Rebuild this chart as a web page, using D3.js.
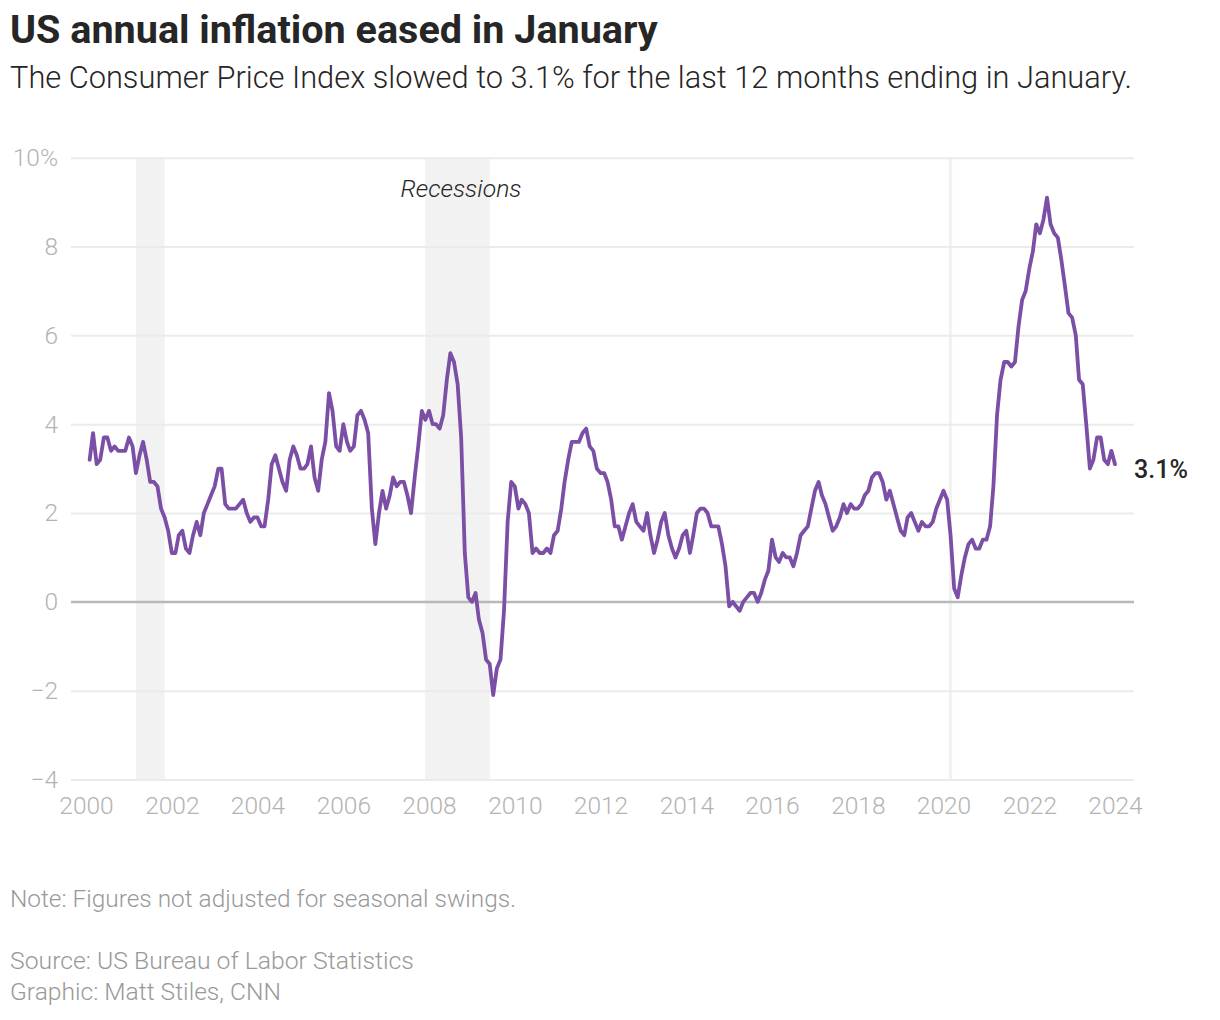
<!DOCTYPE html>
<html>
<head>
<meta charset="utf-8">
<script src="https://cdn.jsdelivr.net/npm/d3@7"></script>
<style>
  body { margin: 0; background: #fff; }
  svg { display: block; font-family: Roboto, "Liberation Sans", sans-serif; }
</style>
</head>
<body>
<svg id="chart" width="1220" height="1020"></svg>
<script>
// CPI-U, 12-month % change, not seasonally adjusted. First value is Feb 2000.
const firstMonth = '2000-02';
const cpiMonthly = [
  3.2, 3.8, 3.1, 3.2, 3.7, 3.7, 3.4, 3.5, 3.4, 3.4, 3.4,
  3.7, 3.5, 2.9, 3.3, 3.6, 3.2, 2.7, 2.7, 2.6, 2.1, 1.9, 1.6,
  1.1, 1.1, 1.5, 1.6, 1.2, 1.1, 1.5, 1.8, 1.5, 2.0, 2.2, 2.4,
  2.6, 3.0, 3.0, 2.2, 2.1, 2.1, 2.1, 2.2, 2.3, 2.0, 1.8, 1.9,
  1.9, 1.7, 1.7, 2.3, 3.1, 3.3, 3.0, 2.7, 2.5, 3.2, 3.5, 3.3,
  3.0, 3.0, 3.1, 3.5, 2.8, 2.5, 3.2, 3.6, 4.7, 4.3, 3.5, 3.4,
  4.0, 3.6, 3.4, 3.5, 4.2, 4.3, 4.1, 3.8, 2.1, 1.3, 2.0, 2.5,
  2.1, 2.4, 2.8, 2.6, 2.7, 2.7, 2.4, 2.0, 2.8, 3.5, 4.3, 4.1,
  4.3, 4.0, 4.0, 3.9, 4.2, 5.0, 5.6, 5.4, 4.9, 3.7, 1.1, 0.1,
  0.0, 0.2, -0.4, -0.7, -1.3, -1.4, -2.1, -1.5, -1.3, -0.2, 1.8, 2.7,
  2.6, 2.1, 2.3, 2.2, 2.0, 1.1, 1.2, 1.1, 1.1, 1.2, 1.1, 1.5,
  1.6, 2.1, 2.7, 3.2, 3.6, 3.6, 3.6, 3.8, 3.9, 3.5, 3.4, 3.0,
  2.9, 2.9, 2.7, 2.3, 1.7, 1.7, 1.4, 1.7, 2.0, 2.2, 1.8, 1.7,
  1.6, 2.0, 1.5, 1.1, 1.4, 1.8, 2.0, 1.5, 1.2, 1.0, 1.2, 1.5,
  1.6, 1.1, 1.5, 2.0, 2.1, 2.1, 2.0, 1.7, 1.7, 1.7, 1.3, 0.8,
  -0.1, 0.0, -0.1, -0.2, 0.0, 0.1, 0.2, 0.2, 0.0, 0.2, 0.5, 0.7,
  1.4, 1.0, 0.9, 1.1, 1.0, 1.0, 0.8, 1.1, 1.5, 1.6, 1.7, 2.1,
  2.5, 2.7, 2.4, 2.2, 1.9, 1.6, 1.7, 1.9, 2.2, 2.0, 2.2, 2.1,
  2.1, 2.2, 2.4, 2.5, 2.8, 2.9, 2.9, 2.7, 2.3, 2.5, 2.2, 1.9,
  1.6, 1.5, 1.9, 2.0, 1.8, 1.6, 1.8, 1.7, 1.7, 1.8, 2.1, 2.3,
  2.5, 2.3, 1.5, 0.3, 0.1, 0.6, 1.0, 1.3, 1.4, 1.2, 1.2, 1.4,
  1.4, 1.7, 2.6, 4.2, 5.0, 5.4, 5.4, 5.3, 5.4, 6.2, 6.8, 7.0,
  7.5, 7.9, 8.5, 8.3, 8.6, 9.1, 8.5, 8.3, 8.2, 7.7, 7.1, 6.5,
  6.4, 6.0, 5.0, 4.9, 4.0, 3.0, 3.2, 3.7, 3.7, 3.2, 3.1, 3.4,
  3.1
];

const recessions = [
  ['2001-03-01', '2001-11-01'],
  ['2007-12-01', '2009-06-01'],
  ['2020-02-15', '2020-03-15']
];

const yTicks = [-4, -2, 0, 2, 4, 6, 8, 10];
const xTickYears = [2000, 2002, 2004, 2006, 2008, 2010, 2012, 2014, 2016, 2018, 2020, 2022, 2024];

const title = 'US annual inflation eased in January';
const subtitle = 'The Consumer Price Index slowed to 3.1% for the last 12 months ending in January.';
const footer = [
  'Note: Figures not adjusted for seasonal swings.',
  'Source: US Bureau of Labor Statistics',
  'Graphic: Matt Stiles, CNN'
];

const parseDay = d3.timeParse('%Y-%m-%d');
const start = d3.timeParse('%Y-%m')(firstMonth);
const series = cpiMonthly.map((v, i) => ({ date: d3.timeMonth.offset(start, i), value: v }));

const svg = d3.select('#chart');

const x = d3.scaleTime()
  .domain([new Date(2000, 0, 1), new Date(2024, 0, 1)])
  .range([86, 1115]);

const y = d3.scaleLinear()
  .domain([-4, 10])
  .range([779.5, 157.7]);

const gridLeft = 71, gridRight = 1134;

// shrink/grow the font so a line of text spans the width it has in the original
function fitWidth(sel, target) {
  const node = sel.node();
  const fs = parseFloat(sel.attr('font-size'));
  const w = node.getComputedTextLength();
  sel.attr('font-size', (fs * target / w).toFixed(2));
}

// heading
svg.append('text')
  .attr('x', 10).attr('y', 43)
  .attr('font-size', 33).attr('font-weight', 700)
  .attr('fill', '#262626')
  .text(title)
  .call(fitWidth, 648);

svg.append('text')
  .attr('x', 10).attr('y', 88)
  .attr('font-size', 27).attr('font-weight', 300)
  .attr('fill', '#262626')
  .text(subtitle)
  .call(fitWidth, 1122);

// recession bands
svg.append('g')
  .selectAll('rect')
  .data(recessions)
  .join('rect')
  .attr('x', d => x(parseDay(d[0])))
  .attr('width', d => x(parseDay(d[1])) - x(parseDay(d[0])))
  .attr('y', y(10))
  .attr('height', y(-4) - y(10))
  .attr('fill', '#f2f2f2');

svg.append('text')
  .attr('x', 461).attr('y', 197)
  .attr('text-anchor', 'middle')
  .attr('font-size', 21).attr('font-style', 'italic').attr('font-weight', 300)
  .attr('fill', '#262626')
  .text('Recessions')
  .call(fitWidth, 121);

// y grid + labels
const yAxis = svg.append('g')
  .call(d3.axisLeft(y)
    .tickValues(yTicks)
    .tickSize(gridLeft - gridRight)
    .tickFormat(d => d === 10 ? '10%' : (d < 0 ? '\u2212' + Math.abs(d) : d)))
  .attr('transform', `translate(${gridLeft},0)`);
yAxis.select('.domain').remove();
yAxis.selectAll('.tick line')
  .attr('x1', 0).attr('x2', gridRight - gridLeft)
  .attr('stroke', d => d === 0 ? '#b8b8b8' : '#ebebeb')
  .attr('stroke-width', 2);
yAxis.selectAll('.tick text')
  .attr('x', -13)
  .attr('font-size', 24.5)
  .attr('font-weight', 300)
  .attr('font-family', 'Roboto, sans-serif')
  .attr('fill', '#b3b3b3');

// x labels
const xAxis = svg.append('g')
  .attr('transform', `translate(0,${y(-4)})`)
  .call(d3.axisBottom(x)
    .tickValues(xTickYears.map(yr => new Date(yr, 0, 1)))
    .tickSize(0)
    .tickFormat(d3.timeFormat('%Y')));
xAxis.select('.domain').remove();
xAxis.selectAll('.tick text')
  .attr('y', 17)
  .attr('font-size', 24.5)
  .attr('font-weight', 300)
  .attr('font-family', 'Roboto, sans-serif')
  .attr('fill', '#b3b3b3');

// zero line on top of the bands
svg.append('line')
  .attr('x1', gridLeft).attr('x2', gridRight)
  .attr('y1', y(0)).attr('y2', y(0))
  .attr('stroke', '#b8b8b8').attr('stroke-width', 2);

// the CPI line
const line = d3.line()
  .x(d => x(d.date))
  .y(d => y(d.value));

svg.append('path')
  .datum(series)
  .attr('d', line)
  .attr('fill', 'none')
  .attr('stroke', '#7b4fa6')
  .attr('stroke-width', 3.8)
  .attr('stroke-linejoin', 'round')
  .attr('stroke-linecap', 'round');

const last = series[series.length - 1];
svg.append('text')
  .attr('x', x(last.date) + 19)
  .attr('y', y(last.value) + 14)
  .attr('font-size', 22).attr('font-weight', 500)
  .attr('fill', '#262626')
  .text(d3.format('.1f')(last.value) + '%')
  .call(fitWidth, 54);

// notes
svg.append('g')
  .selectAll('text')
  .data(footer)
  .join('text')
  .attr('x', 10)
  .attr('y', (d, i) => [907, 969, 1000][i])
  .attr('font-size', 21)
  .attr('font-weight', 300)
  .attr('fill', '#999')
  .text(d => d)
  .each(function (d, i) {
    d3.select(this).call(fitWidth, [506, 404, 271][i]);
  });
</script>
</body>
</html>
